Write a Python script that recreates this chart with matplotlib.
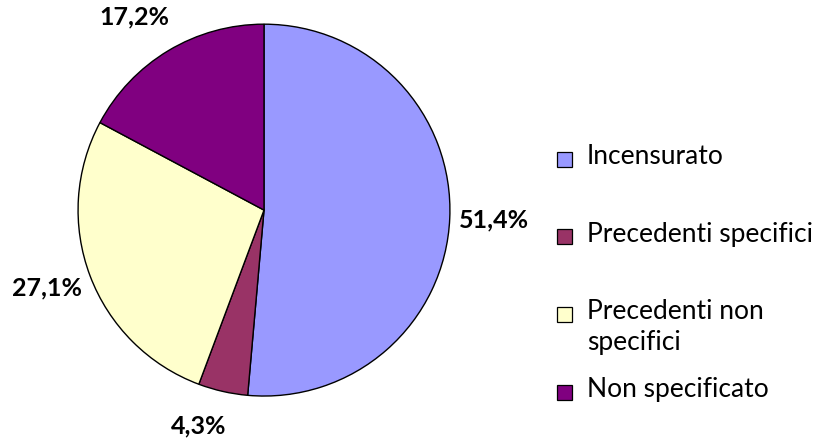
import numpy as np
import matplotlib.pyplot as plt
from matplotlib.patches import Rectangle

# data
labels = ['Incensurato', 'Precedenti specifici', 'Precedenti non\nspecifici', 'Non specificato']
values = [51.4, 4.3, 27.1, 17.2]
colors = ['#9999FF', '#993366', '#FFFFCC', '#800080']

# label placement (Excel "best fit" look): radial distance and angle nudge
label_dist = [1.24, 1.21, 1.24, 1.25]
angle_shift = [0, -4, -1, 3]

plt.rcParams['font.family'] = ['Lato', 'DejaVu Sans']

fig = plt.figure(figsize=(8.29, 4.38), dpi=100)
ax = fig.add_axes([0.0941, 0.0958, 0.4487, 0.849])

wedges, _ = ax.pie(values, colors=colors, startangle=90, counterclock=False,
                   wedgeprops=dict(edgecolor='black', linewidth=1.0))
ax.set_xlim(-1, 1)
ax.set_ylim(-1, 1)
ax.set_aspect('equal')

total = sum(values)
for w, v, d, s in zip(wedges, values, label_dist, angle_shift):
    ang = np.deg2rad((w.theta1 + w.theta2) / 2 + s)
    ax.text(d * np.cos(ang), d * np.sin(ang), f'{100 * v / total:.1f}%'.replace('.', ','),
            ha='center', va='center', fontsize=18, fontweight='bold', clip_on=False)

# legend, drawn by hand to get Excel's spacing
box_w, box_h = 15 / 829, 15 / 438
x_box = 557 / 829
y_top = 1 - 159 / 438
step = 77.7 / 438
for i, (lab, c) in enumerate(zip(labels, colors)):
    y = y_top - i * step
    fig.add_artist(Rectangle((x_box, y - box_h / 2), box_w, box_h, transform=fig.transFigure,
                             facecolor=c, edgecolor='black', linewidth=0.9))
    fig.text(587 / 829, y + 15 / 438, lab, ha='left', va='top', fontsize=19, linespacing=1.3)

fig.savefig('out.png', dpi=100)
